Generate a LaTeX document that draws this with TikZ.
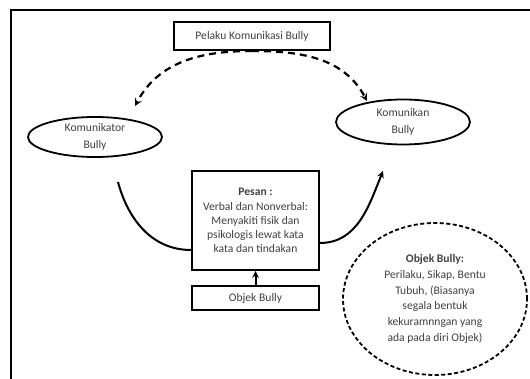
\documentclass[tikz,border=0pt]{standalone}
\usepackage{fontspec}
\setmainfont{Carlito}
\usetikzlibrary{positioning,shapes.geometric}
\definecolor{stext}{HTML}{404040}

\begin{document}
\begin{tikzpicture}[x=1pt, y=-1pt, font=\fontsize{11.6}{14.2}\selectfont,
    boxnode/.style={draw, line width=2pt, text=stext, align=center, inner sep=2pt},
    elnode/.style={ellipse, draw, line width=1.8pt, text=stext, align=center, inner sep=0pt},
    dasharr/.style={-stealth, line width=2.2pt, dash pattern=on 7pt off 5pt},
    solarr/.style={-stealth, line width=2pt}]
    \useasboundingbox (0,0) rectangle (530,379);

    % frame
    \draw[line width=2.2pt] (11,380) |- (531,10);

    \node[boxnode, minimum width=156pt, minimum height=28pt] (pelaku) at (252,36) {Pelaku Komunikasi Bully};
    \node[elnode, minimum width=134pt, minimum height=40pt, font=\fontsize{11.6}{17}\selectfont] (komunikator) at (95,137) {Komunikator\\Bully};
    \node[elnode, minimum width=134pt, minimum height=45pt, font=\fontsize{11.6}{17}\selectfont] (komunikan) at (403,122) {Komunikan\\Bully};

    \node[boxnode, minimum width=127pt, minimum height=99pt] (pesan) at (255.5,220.5)
      {\textbf{Pesan :}\\Verbal dan Nonverbal:\\Menyakiti fisik dan\\psikologis lewat kata\\kata dan tindakan};
    \node[boxnode, minimum width=127pt, minimum height=24pt] (objek) at (255.5,298) {Objek Bully};

    \node[elnode, dash pattern=on 4pt off 2.5pt, minimum width=184pt, minimum height=152pt,
      font=\fontsize{11.6}{15.8}\selectfont] (objekinfo) at (435,299)
      {\textbf{Objek Bully:}\\Perilaku, Sikap, Bentu\\Tubuh, (Biasanya\\segala bentuk\\kekuramnngan yang\\ada pada diri Objek)};

    \coordinate (kl) at (135,106);
    \coordinate (kr) at (367,101);
    \coordinate (sl) at (118,182);
    \coordinate (sr) at (383,171);

    \draw[dasharr] (pelaku.south) to[out=180,in=62] (kl);
    \draw[dasharr] (pelaku.south) to[out=0,in=118] (kr);
    \draw[solarr, -] (sl) to[out=-75,in=180] (pesan.west |- 0,250);
    \draw[solarr] (pesan.east |- 0,243) to[out=0,in=-112] (sr);
    \draw[solarr] (objek) -- (pesan);
\end{tikzpicture}
\end{document}
